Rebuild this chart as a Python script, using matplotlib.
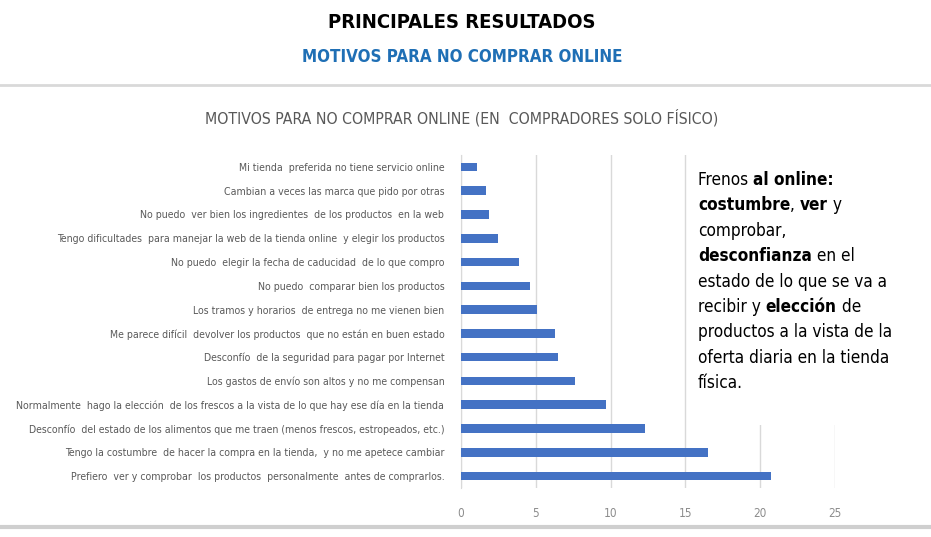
import matplotlib.pyplot as plt
import numpy as np

plt.rcParams['font.family'] = ['DejaVu Sans']
plt.rcParams['font.stretch'] = 'condensed'

# data, top to bottom as in the chart
motivos = [
    'Mi tienda  preferida no tiene servicio online',
    'Cambian a veces las marca que pido por otras',
    'No puedo  ver bien los ingredientes  de los productos  en la web',
    'Tengo dificultades  para manejar la web de la tienda online  y elegir los productos',
    'No puedo  elegir la fecha de caducidad  de lo que compro',
    'No puedo  comparar bien los productos',
    'Los tramos y horarios  de entrega no me vienen bien',
    'Me parece difícil  devolver los productos  que no están en buen estado',
    'Desconfío  de la seguridad para pagar por Internet',
    'Los gastos de envío son altos y no me compensan',
    'Normalmente  hago la elección  de los frescos a la vista de lo que hay ese día en la tienda',
    'Desconfío  del estado de los alimentos que me traen (menos frescos, estropeados, etc.)',
    'Tengo la costumbre  de hacer la compra en la tienda,  y no me apetece cambiar',
    'Prefiero  ver y comprobar  los productos  personalmente  antes de comprarlos.',
]
valores = [1.1, 1.7, 1.9, 2.5, 3.9, 4.6, 5.1, 6.3, 6.5, 7.6, 9.7, 12.3, 16.5, 20.7]
xticks = [0, 5, 10, 15, 20, 25]

# side note, each line is a list of (text, bold)
nota = [
    [('Frenos ', False), ('al online:', True)],
    [('costumbre', True), (', ', False), ('ver', True), (' y', False)],
    [('comprobar,', False)],
    [('desconfianza', True), (' en el', False)],
    [('estado de lo que se va a', False)],
    [('recibir y ', False), ('elección', True), (' de', False)],
    [('productos a la vista de la', False)],
    [('oferta diaria en la tienda', False)],
    [('física.', False)],
]

W, H = 931, 537
fig = plt.figure(figsize=(W / 100, H / 100), dpi=100)
fig.patch.set_facecolor('white')

ax = fig.add_axes([461 / W, 1 - 488 / H, (835 - 461) / W, (488 - 155) / H])
y = np.arange(len(motivos))
ax.barh(y, valores, height=0.36, color='#4472C4', zorder=3)
ax.set_ylim(13.5, -0.5)
ax.set_xlim(0, 25)
ax.set_xticks(xticks)
ax.set_yticks(y)
ax.set_yticklabels(motivos, fontsize=7.6, color='#595959')
ax.tick_params(axis='y', length=0, pad=12)
ax.tick_params(axis='x', length=0, pad=14, labelsize=8.5, labelcolor='#8c8c8c')
ax.grid(axis='x', color='#d9d9d9', linewidth=1, zorder=0)
for s in ['top', 'right', 'bottom']:
    ax.spines[s].set_visible(False)
ax.spines['left'].set_color('#d9d9d9')

# titles
fig.text(462 / W, 1 - 22 / H, 'PRINCIPALES RESULTADOS', ha='center', va='center',
         fontsize=14.5, fontweight='bold', color='black')
fig.text(462 / W, 1 - 57 / H, 'MOTIVOS PARA NO COMPRAR ONLINE', ha='center', va='center',
         fontsize=12.2, fontweight='bold', color='#1F6FB5')
fig.text(462 / W, 1 - 118 / H, 'MOTIVOS PARA NO COMPRAR ONLINE (EN  COMPRADORES SOLO FÍSICO)',
         ha='center', va='center', fontsize=11.3, color='#595959')

# separator lines
fig.add_artist(plt.Line2D([0, 1], [1 - 85 / H, 1 - 85 / H], color='#d9d9d9', linewidth=2))
fig.add_artist(plt.Line2D([0, 1], [1 - 527 / H, 1 - 527 / H], color='#cfcfcf', linewidth=3))

# white box with the note
fig.add_artist(plt.Rectangle((690 / W, 1 - 425 / H), 240 / W, 270 / H,
                             transform=fig.transFigure, facecolor='white', edgecolor='none', zorder=5))
for i, linea in enumerate(nota):
    yb = 1 - (185 + i * 25.4) / H
    prev = None
    for txt, bold in linea:
        w = 'bold' if bold else 'normal'
        if prev is None:
            prev = fig.text(698 / W, yb, txt, fontsize=12.3, fontweight=w, color='black',
                            va='baseline', ha='left', zorder=6)
        else:
            prev = fig.add_artist(plt.Annotation(txt, xy=(1, 0), xycoords=prev,
                                                 fontsize=12.3, fontweight=w, color='black',
                                                 va='bottom', ha='left', zorder=6))

fig.savefig('out.png', dpi=100, facecolor='white')
